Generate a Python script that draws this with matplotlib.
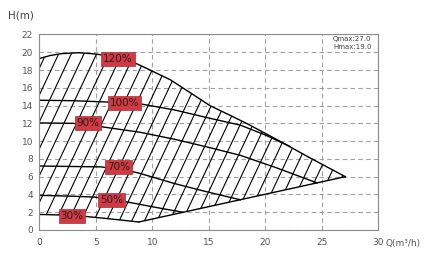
import numpy as np
import matplotlib
matplotlib.use("Agg")
import matplotlib.pyplot as plt
from matplotlib.path import Path
from matplotlib.patches import PathPatch

# curve points (Q in m3/h, H in m)
top_q = [0, 1, 2, 3.5, 5, 6.5, 8.3, 9.8, 11.6, 13.3, 15.1, 16.9, 18.5, 21, 24, 27.1]
top_h = [19.3, 19.65, 19.85, 19.95, 19.8, 19.5, 18.9, 18.0, 16.9, 15.5, 14.0, 12.9, 11.9, 10.2, 8.1, 6.0]

q100 = [0, 3, 6, 8.9, 12, 15, 17.8, 20, 22.2]
h100 = [14.6, 14.55, 14.4, 14.2, 13.5, 12.6, 11.8, 10.7, 9.4]

q90 = [0, 3, 5.6, 8.9, 12, 15, 17.8, 21, 24.6]
h90 = [12.05, 12.0, 11.6, 11.0, 10.2, 9.3, 8.4, 7.0, 5.3]

q70 = [0, 5.5, 8.3, 8.9, 11.9, 14.5, 17.8]
h70 = [7.2, 7.1, 6.55, 6.37, 5.25, 4.4, 3.4]

q50 = [0, 3, 4.9, 8.0, 10.5, 12.7]
h50 = [3.9, 3.8, 3.7, 3.1, 2.5, 2.0]

q30 = [0, 3, 5.1, 7, 8.8]
h30 = [1.75, 1.65, 1.4, 1.15, 0.9]

edge_q = [8.8, 27.1]
edge_h = [0.9, 6.0]

labels = ["120%", "100%", "90%", "70%", "50%", "30%"]
label_q = [6.96, 7.55, 4.3, 6.99, 6.37, 2.88]
label_h = [19.27, 14.33, 12.0, 7.08, 3.39, 1.61]

fig = plt.figure(figsize=(4.32, 2.68), dpi=100)
ax = fig.add_axes([0.0914, 0.1418, 0.7836, 0.7295])
ax.set_xlim(0, 30)
ax.set_ylim(0, 22)
ax.set_xticks(range(0, 31, 5))
ax.set_yticks(range(0, 23, 2))
ax.tick_params(length=0, labelsize=6.5, labelcolor="#555555")
ax.tick_params(axis="x", pad=6)
ax.tick_params(axis="y", pad=4.7)
for s in ax.spines.values():
    s.set_color("#8c8c8c")
    s.set_linewidth(0.8)
ax.grid(True, color="#a0a0a0", linestyle=(0, (4, 3)), linewidth=0.8)
ax.set_axisbelow(True)

# outline of the working area
poly_q = top_q + edge_q[::-1] + q30[::-1]
poly_h = top_h + edge_h[::-1] + h30[::-1]
verts = list(zip(poly_q, poly_h))
area = PathPatch(Path(verts + [verts[0]], closed=True), fc="none", ec="none")
ax.add_patch(area)

# diagonal hatching inside the area
xs = np.array([-10, 40])
for c in np.arange(-9, 28, 1.12):
    ln, = ax.plot(xs, 2.7 * (xs - c), color="black", lw=0.8)
    ln.set_clip_path(area)

for q, h in [(top_q, top_h), (q100, h100), (q90, h90), (q70, h70),
             (q50, h50), (q30, h30), (edge_q, edge_h)]:
    ax.plot(q, h, color="black", lw=1.0)

for t, q, h in zip(labels, label_q, label_h):
    ax.text(q, h, t, ha="center", va="center", fontsize=7.5, color="#2a1a1a",
            bbox=dict(boxstyle="square,pad=0.18", fc="#d03a44", ec="#b02a33", lw=0.5),
            zorder=5)

fig.text(333 / 432, 1 - 39 / 268, "Qmax:27.0", fontsize=5, color="#444444", va="center")
fig.text(333 / 432, 1 - 46.7 / 268, "Hmax:19.0", fontsize=5, color="#444444", va="center")
fig.text(8 / 432, 1 - 15 / 268, "H(m)", fontsize=7.5, color="#444444", va="center")
fig.text(386 / 432, 1 - 243.3 / 268, "Q(m³/h)", fontsize=6.5, color="#555555", va="center")

fig.savefig("out.png", dpi=100)
